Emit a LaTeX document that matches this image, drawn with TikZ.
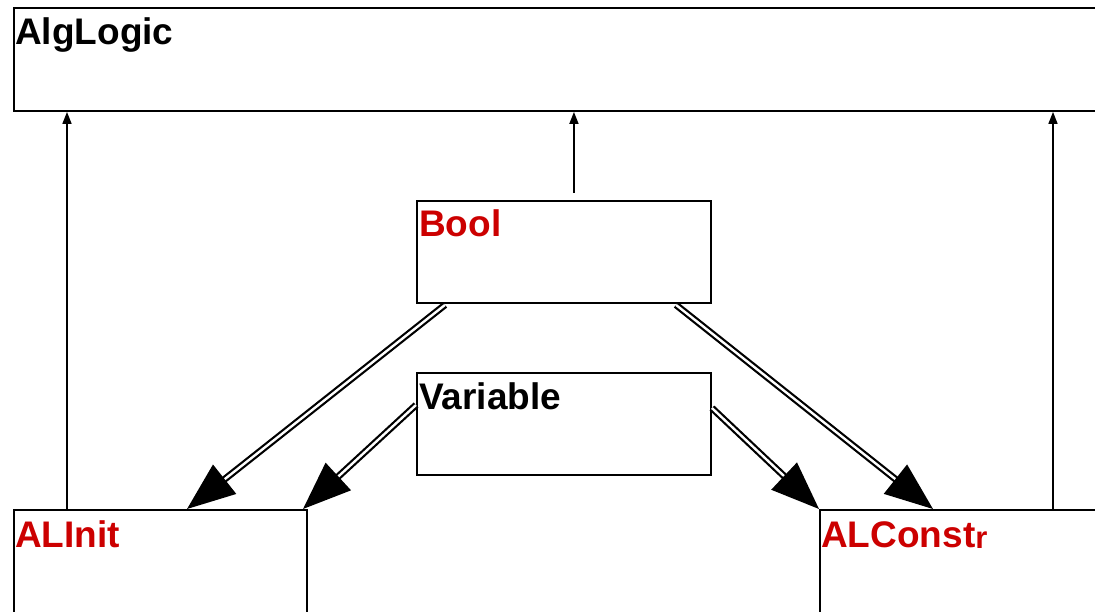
\documentclass[tikz,border=0pt]{standalone}
\usepackage{fontspec}
\setmainfont{Liberation Sans}
\usetikzlibrary{arrows.meta,calc}
\definecolor{kwred}{RGB}{204,0,0}
\begin{document}
\begin{tikzpicture}[x=1pt,y=-1pt,
  box/.style={draw=black, fill=white, line width=1.9pt, rectangle, inner sep=0pt, anchor=north west},
  title/.style={anchor=base west, inner sep=0pt, font=\fontsize{37}{42}\selectfont\bfseries},
  keyword/.style={title, text=kwred},
  uses/.style={line width=1.6pt, -{Triangle[length=12pt,width=9pt]}},
  dbl/.style={double, line width=2.2pt, double distance=2.4pt, -{Triangle[length=48pt,width=37pt]}}]
\useasboundingbox (0,0) rectangle (1095,612);
\clip (0,0) rectangle (1095,612);

% module boxes
\node[box, minimum width=1100pt, minimum height=103pt] (alg) at (13,7) {};
\node[box, minimum width=294pt, minimum height=102pt] (bool) at (416,200) {};
\node[box, minimum width=294pt, minimum height=102pt] (var) at (416,372) {};
\node[box, minimum width=293pt, minimum height=115pt] (alinit) at (13,509) {};
\node[box, minimum width=300pt, minimum height=115pt] (alconstr) at (819,509) {};

% box titles
\node[title] (algT) at ($(alg.north west)+(2,38)$) {AlgLogic};
\node[keyword] (boolT) at ($(bool.north west)+(3,37)$) {Bool};
\node[title] (varT) at ($(var.north west)+(3,37)$) {Variable};
\node[keyword] (alinitT) at ($(alinit.north west)+(2,38)$) {ALInit};
\node[keyword] (alconstrT) at ($(alconstr.north west)+(2,38)$) {ALConst\raisebox{-1pt}{\fontsize{31}{35}\selectfont r}};

% import arrows to AlgLogic
\coordinate (pInit) at ($(alinit.north west)+(54,0)$);
\coordinate (pBool) at ($(bool.north)+(10,-7)$);
\coordinate (pConstr) at ($(alconstr.north west)+(234,0)$);
\draw[uses] (pInit) -- (pInit |- alg.south);
\draw[uses] (pBool) -- (pBool |- alg.south);
\draw[uses] (pConstr) -- (pConstr |- alg.south);

% double-lined dependency arrows
\draw[dbl] ($(bool.south west)+(29,1)$) -- ($(alinit.north west)+(174,0)$);
\draw[dbl] ($(var.north west)+(0,33)$) -- ($(alinit.north west)+(290,0)$);
\draw[dbl] ($(var.north east)+(0,36)$) -- (alconstr.north west);
\draw[dbl] ($(bool.south west)+(260,1)$) -- ($(alconstr.north west)+(114,0)$);
\end{tikzpicture}
\end{document}
